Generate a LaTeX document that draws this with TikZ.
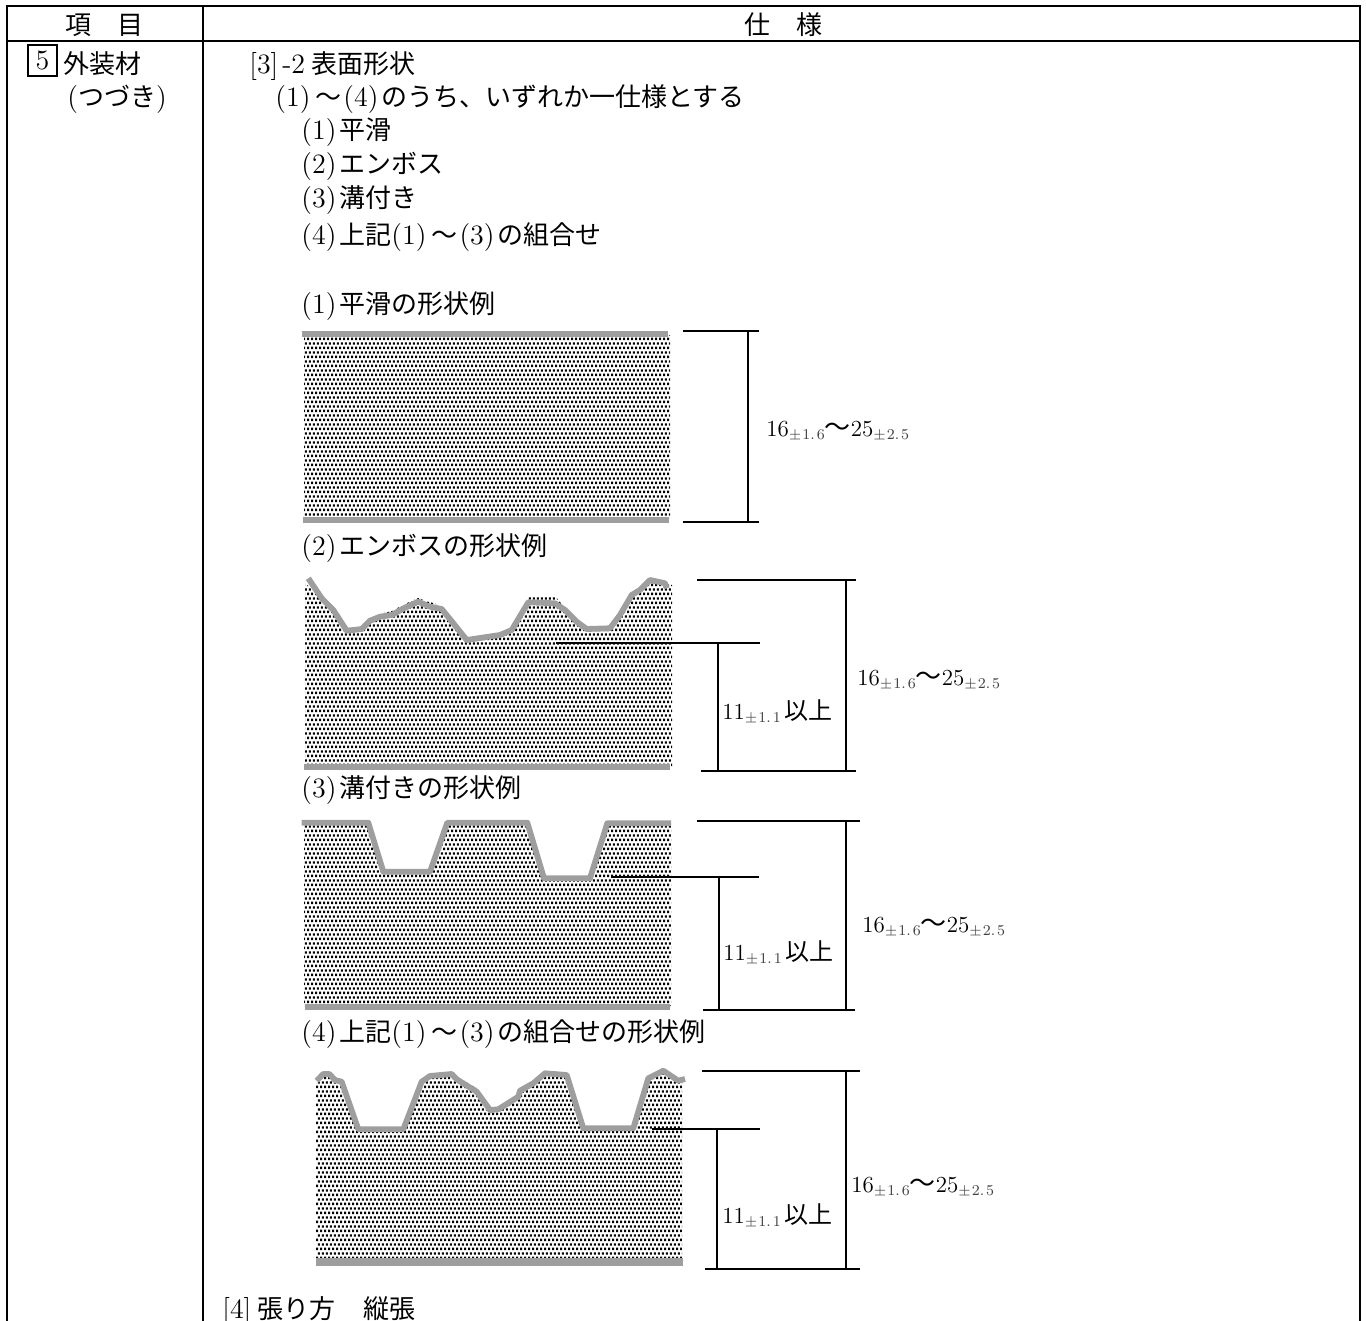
\documentclass[tikz,border=0pt]{standalone}
\usepackage{fontspec}
\usetikzlibrary{patterns}
\newfontfamily\jpfont{Noto Sans CJK JP}
\pgfdeclarepatternformonly{sanddots}{\pgfqpoint{0pt}{0pt}}{\pgfqpoint{2.2pt}{4.4pt}}{\pgfqpoint{2.2pt}{4.4pt}}{
  \pgfpathrectangle{\pgfqpoint{0pt}{0.5pt}}{\pgfqpoint{1.2pt}{1.2pt}}
  \pgfpathrectangle{\pgfqpoint{1.1pt}{2.7pt}}{\pgfqpoint{1.1pt}{1.2pt}}
  \pgfusepath{fill}}
\newcommand{\pn}[1]{{\rmfamily\fontsize{14}{15}\selectfont(#1)\kern1.5pt}}
\newcommand{\wave}{\kern1pt〜\kern1pt}
\newcommand{\tol}[1]{\raisebox{-1.6pt}{\rmfamily\fontsize{7.5}{8}\selectfont\color{black!75}$\pm$\kern.5pt#1}}
\newcommand{\thick}{{\rmfamily\fontsize{11.5}{13}\selectfont 16\tol{1.\kern1pt6}{\jpfont\fontsize{13}{14}\selectfont 〜}25\tol{2.\kern1pt5}}}
\newcommand{\thin}{{\rmfamily\fontsize{11.5}{13}\selectfont 11\tol{1.\kern1pt1}\kern2pt{\jpfont\fontsize{12}{14}\selectfont 以上}}}
\tikzset{
  txt/.style={anchor=west,inner sep=0pt,yshift=-1pt,font=\fontsize{13}{15}\selectfont\jpfont},
  head/.style={inner sep=0pt,font=\fontsize{13}{15}\selectfont\jpfont},
  rule/.style={line width=1pt,black},
  dimline/.style={line width=1pt,black},
  skin/.style={line width=2.9pt,black!38,line join=round},
  core/.style={pattern=sanddots,pattern color=black}
}
\begin{document}
\begin{tikzpicture}[x=0.5pt,y=-0.5pt]
  \useasboundingbox (0,0) rectangle (1366,1321);
  % table
  \draw[rule] (7,1321) -- (7,6) -- (1360,6) -- (1360,1321);
  \draw[rule] (7,41) -- (1360,41);
  \draw[rule] (203,6) -- (203,1321);
  \node[head] (item) at (104,25) {項\hspace{1em}目};
  \node[head] (spec) at (783,25) {仕\hspace{1em}様};
  \node[draw,line width=0.7pt,minimum width=14.5pt,minimum height=15.5pt,inner sep=0pt,font=\rmfamily\fontsize{14}{15}\selectfont] (no5) at (42.5,60.5) {5};
  \node[txt] (mat) at (63,62) {外装材};
  \node[txt] (cont) at (67,97) {{\rmfamily\fontsize{14}{15}\selectfont(}つづき{\rmfamily\fontsize{14}{15}\selectfont)}};
  % text rows
  \node[txt] (s3) at (249,64) {{\rmfamily\fontsize{14}{15}\selectfont[3]\kern2pt-2\kern3pt}表面形状};
  \node[txt] (any) at (275,97) {\pn{1}\wave\pn{4}のうち、いずれか一仕様とする};
  \node[txt] (a1) at (301,130) {\pn{1}平滑};
  \node[txt] (a2) at (301,164) {\pn{2}エンボス};
  \node[txt] (a3) at (301,198) {\pn{3}溝付き};
  \node[txt] (a4) at (301,235) {\pn{4}上記\pn{1}\wave\pn{3}の組合せ};
  \node[txt] (t1) at (301,304) {\pn{1}平滑の形状例};
  \node[txt] (t2) at (301,546) {\pn{2}エンボスの形状例};
  \node[txt] (t3) at (301,788) {\pn{3}溝付きの形状例};
  \node[txt] (t4) at (301,1032) {\pn{4}上記\pn{1}\wave\pn{3}の組合せの形状例};
  \node[txt] (s4) at (222,1309) {{\rmfamily\fontsize{14}{15}\selectfont[4]\kern3pt}張り方\hspace{1.1em}縦張};
  % smooth
  \fill[core] (304,336) rectangle (670,518);
  \draw[skin] (301.5,334) -- (668,334);
  \draw[skin] (303,520) -- (669,520);
  \draw[dimline] (683,331) -- (759,331) (683,522) -- (759,522) (748,331) -- (748,522);
  \node[txt] (d1) at (766,429) {\thick};
  % emboss
  \fill[core] (305,583) -- (321.7,598.3) -- (333.3,610) -- (346.7,630.7) -- (361.7,629) -- (370,620) -- (380,614) -- (391.7,611) -- (405,604) -- (418.3,598) -- (441.7,606) -- (453.3,620) -- (466.7,638) -- (500,635) -- (511.7,628) -- (528.3,597) -- (555,596) -- (565,608) -- (576.7,621.7) -- (586.7,629) -- (610,628.3) -- (620,615) -- (631.7,595) -- (650,582) -- (672,585) -- (672,767) -- (305,767) -- cycle;
  \draw[skin] (308.3,578.3) -- (321.7,598.3) -- (333.3,610) -- (346.7,630.7) -- (361.7,629) -- (370,620.7) -- (380,616.7) -- (391.7,615) -- (405,607.7) -- (418.3,601.7) -- (430,606.7) -- (441.7,609) -- (453.3,623.3) -- (466.7,640) -- (500,635) -- (511.7,630) -- (528.3,602.3) -- (555,603.3) -- (565,610) -- (576.7,621.7) -- (586.7,629) -- (610,628.3) -- (620,615) -- (631.7,595) -- (640,590) -- (650,580) -- (665,583.3) -- (666.7,588.3);
  \draw[skin] (304,767) -- (670,767);
  \draw[dimline] (697,580) -- (855.7,580) (700.7,771) -- (855.7,771) (846,580) -- (846,771) (556,643) -- (760,643) (718,643) -- (718,771);
  \node[txt] (d2) at (857,678) {\thick};
  \node[txt] (h2) at (722,710) {\thin};
  % grooved
  \fill[core] (304,823) -- (368.3,823) -- (383.3,872) -- (430,872) -- (447.3,823) -- (527.3,823) -- (544,878) -- (590,878) -- (607.3,823) -- (671,823) -- (671,1006) -- (304,1006) -- cycle;
  \draw[skin] (301.7,822.7) -- (368.3,822.7) -- (383.3,871.7) -- (430,871.7) -- (447.3,822.7) -- (527.3,822.7) -- (544,878.3) -- (590,878.3) -- (607.3,823.3) -- (671,823.3);
  \draw[skin] (305,1006.7) -- (670,1006.7);
  \draw[dimline] (697,821) -- (860,821) (703,1010) -- (855,1010) (846,821) -- (846,1010) (611,877) -- (759,877) (719,877) -- (719,1010);
  \node[txt] (d3) at (862,925) {\thick};
  \node[txt] (h3) at (723,951) {\thin};
  % combined
  \fill[core] (316,1080) -- (323.3,1074) -- (329.3,1074) -- (335,1080) -- (341.7,1081.7) -- (358.3,1129.3) -- (403.3,1129.3) -- (421.7,1081.7) -- (430,1076) -- (451.7,1074) -- (456.7,1077) -- (476.7,1088) -- (490,1108) -- (498.3,1109.3) -- (518.3,1096.7) -- (520,1090.7) -- (533.3,1083.3) -- (545,1073.3) -- (566.7,1075) -- (583.3,1128.3) -- (633.3,1128.3) -- (648.3,1078.3) -- (663.3,1073) -- (682,1080) -- (682,1261) -- (316,1261) -- cycle;
  \draw[skin] (316.7,1080.7) -- (323.3,1074) -- (329.3,1074) -- (335,1080) -- (341.7,1081.7) -- (358.3,1129.3) -- (403.3,1129.3) -- (421.7,1081.7) -- (430,1076) -- (451.7,1074) -- (456.7,1079.3) -- (476.7,1091.7) -- (490,1110) -- (498.3,1109.3) -- (518.3,1096.7) -- (520,1090.7) -- (533.3,1083.3) -- (545,1073.3) -- (566.7,1075) -- (583.3,1128.3) -- (633.3,1128.3) -- (648.3,1078.3) -- (663.3,1070.7) -- (678.3,1080.7) -- (685,1079);
  \draw[skin,line width=3.6pt] (316,1262) -- (683,1262);
  \draw[dimline] (702,1071) -- (860,1071) (705,1269) -- (860,1269) (846,1071) -- (846,1269) (652,1129) -- (760,1129) (717,1129) -- (717,1269);
  \node[txt] (d4) at (851,1185) {\thick};
  \node[txt] (h4) at (722,1214) {\thin};
\end{tikzpicture}
\end{document}
